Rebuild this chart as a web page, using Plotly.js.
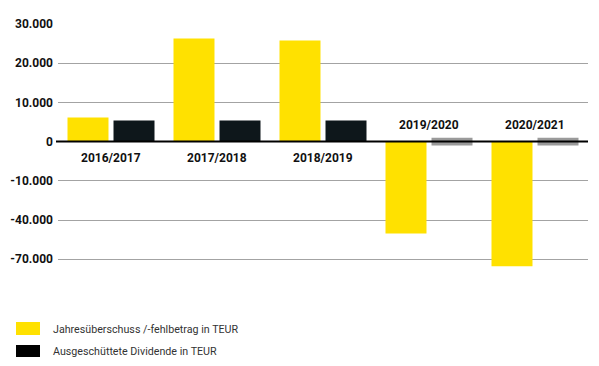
<!DOCTYPE html>
<html>
<head>
<meta charset="utf-8">
<script src="https://cdn.plot.ly/plotly-3.0.1.min.js"></script>
<style>html,body{margin:0;padding:0;background:#fff;}#chart{width:599px;height:366px;}</style>
</head>
<body>
<div id="chart"></div>
<script>
// ---- data ----
const categories = ['2016/2017', '2017/2018', '2018/2019', '2019/2020', '2020/2021'];
const jahresergebnis = [6150, 26300, 25800, -50300, -75300];   // TEUR
const dividende = [5400, 5400, 5400, 0, 0];                      // TEUR
const yTickValues = [30000, 20000, 10000, 0, -10000, -40000, -70000];
const yTickLabels = ['30.000', '20.000', '10.000', '0', '-10.000', '-40.000', '-70.000'];
const seriesNames = ['Jahresüberschuss /-fehlbetrag in TEUR', 'Ausgeschüttete Dividende in TEUR'];

// axis below -10.000 is compressed 1:3 (as in the original graphic)
function squash(v) { return v >= -10000 ? v : -10000 + (v + 10000) / 3; }

const W = 599, H = 366;
const M = {l: 58, r: 11, t: 24, b: 97};
const plotW = W - M.l - M.r, plotH = H - M.t - M.b;
const px2x = px => (px - M.l) / plotW;
const py2y = py => (H - M.b - py) / plotH;

const YELLOW = '#FFE100', DARK = '#0e171b', GREY = '#9a9a9a';

const traces = [
  {type: 'bar', name: seriesNames[0], x: categories, y: jahresergebnis.map(squash),
   customdata: jahresergebnis, offsetgroup: 'a', marker: {color: YELLOW},
   hovertemplate: '%{x}: %{customdata}<extra></extra>', showlegend: false},
  {type: 'bar', name: seriesNames[1], x: categories, y: dividende.map(squash),
   customdata: dividende, offsetgroup: 'b', marker: {color: DARK},
   hovertemplate: '%{x}: %{customdata}<extra></extra>', showlegend: false},
  // grey marker for a dividend of zero
  {type: 'bar', name: 'keine Dividende', x: categories,
   y: dividende.map(v => v === 0 ? 2000 : null), base: -1000,
   offsetgroup: 'b', marker: {color: GREY}, hoverinfo: 'skip', showlegend: false}
];

const annotations = categories.map((c, i) => ({
  x: c, y: 0, xref: 'x', yref: 'y', showarrow: false,
  text: c, yshift: jahresergebnis[i] >= 0 ? -16 : 17,
  font: {family: 'Roboto, sans-serif', size: 12, color: '#111', weight: 'bold'}
}));

const legendItems = [
  {name: seriesNames[0], color: YELLOW, top: 322, bottom: 335, cy: 329},
  {name: seriesNames[1], color: '#000', top: 345, bottom: 357, cy: 351}
];
const shapes = [
  // zero line drawn above the bars
  {type: 'line', xref: 'paper', yref: 'y', x0: px2x(56), x1: 1, y0: 0, y1: 0,
   line: {color: '#000', width: 2}, layer: 'above'}
];
legendItems.forEach(it => {
  shapes.push({type: 'rect', xref: 'paper', yref: 'paper',
    x0: px2x(16), x1: px2x(40), y0: py2y(it.bottom), y1: py2y(it.top),
    fillcolor: it.color, line: {width: 0}});
  annotations.push({xref: 'paper', yref: 'paper', x: px2x(51), y: py2y(it.cy),
    xanchor: 'left', yanchor: 'middle', showarrow: false, text: it.name,
    font: {family: 'Roboto, sans-serif', size: 10.7, color: '#333'}});
});

const layout = {
  width: W, height: H,
  margin: M,
  paper_bgcolor: '#fff', plot_bgcolor: '#fff',
  barmode: 'group', bargap: 0.132, bargroupgap: 0.109,
  showlegend: false,
  xaxis: {type: 'category', range: [-0.5, 4.5], showticklabels: false,
          showgrid: false, zeroline: false, showline: false, ticks: ''},
  yaxis: {range: [squash(-77500), 30000], tickmode: 'array',
          tickvals: yTickValues.map(squash), ticktext: yTickLabels,
          showgrid: true, gridcolor: '#a3a3a3', gridwidth: 1,
          zeroline: false,
          showline: false, ticks: '', ticklabelstandoff: 4,
          tickfont: {family: 'Roboto, sans-serif', size: 12, color: '#111', weight: 'bold'}},
  annotations: annotations,
  shapes: shapes,
  font: {family: 'Roboto, sans-serif'}
};

Plotly.newPlot('chart', traces, layout, {displayModeBar: false, staticPlot: true});
</script>
</body>
</html>
